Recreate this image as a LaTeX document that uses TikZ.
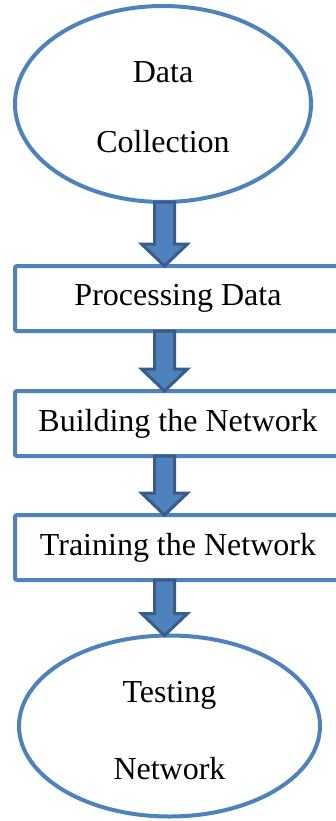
\documentclass[tikz,border=0pt]{standalone}
\usepackage{fontspec}
\setmainfont{Liberation Serif}
\usetikzlibrary{shapes.geometric,calc}

\definecolor{flowblue}{RGB}{79,129,189}
\definecolor{arrowedge}{RGB}{56,93,138}

\begin{document}
\begin{tikzpicture}[x=1pt,y=-1pt,
	every node/.style={outer sep=0pt,inner sep=0pt,text=black},
	endpoint/.style={ellipse,draw=flowblue,line width=4},
	endtext/.style={align=center,yshift=#1,font=\fontsize{32}{70}\selectfont},
	stage/.style={rectangle,rounded corners=2,draw=flowblue,line width=4,
	  minimum width=326,minimum height=65,font=\fontsize{32}{38}\selectfont},
	flowarrow/.style={draw=arrowedge,fill=flowblue,line width=3,
	  to path={($(axis |- \tikztostart)+(-10,0)$) -- ($(axis |- \tikztotarget)+(-10,-22)$)
	    -- ++(-13,0) -- (axis |- \tikztotarget) -- ++(23,-22) -- ++(-13,0)
	    -- ($(axis |- \tikztostart)+(10,0)$) -- cycle}}
	]
  \clip (0,0) rectangle (336,821);
  \coordinate (axis) at (164.5,0);

  \node [endpoint,minimum width=296,minimum height=196,
    label={[endtext=-3.5]center:{Data\\Collection}}] (collect) at (163,104) {};
  \node [stage] (process) at (178,298.5) {Processing Data};
  \node [stage] (build) at (178,423.5) {Building the Network};
  \node [stage] (train) at (178,547.5) {Training the Network};
  \node [endpoint,minimum width=301,minimum height=181,
    label={[endtext=-5,font=\fontsize{32}{77}\selectfont]center:{Testing\\Network}}] (test) at (169.5,726) {};

  \draw [flowarrow] (collect.south) to (process.north);
  \draw [flowarrow] (process.south) to (build.north);
  \draw [flowarrow] (build.south) to (train.north);
  \draw [flowarrow] (train.south) to (test.north);
\end{tikzpicture}
\end{document}
